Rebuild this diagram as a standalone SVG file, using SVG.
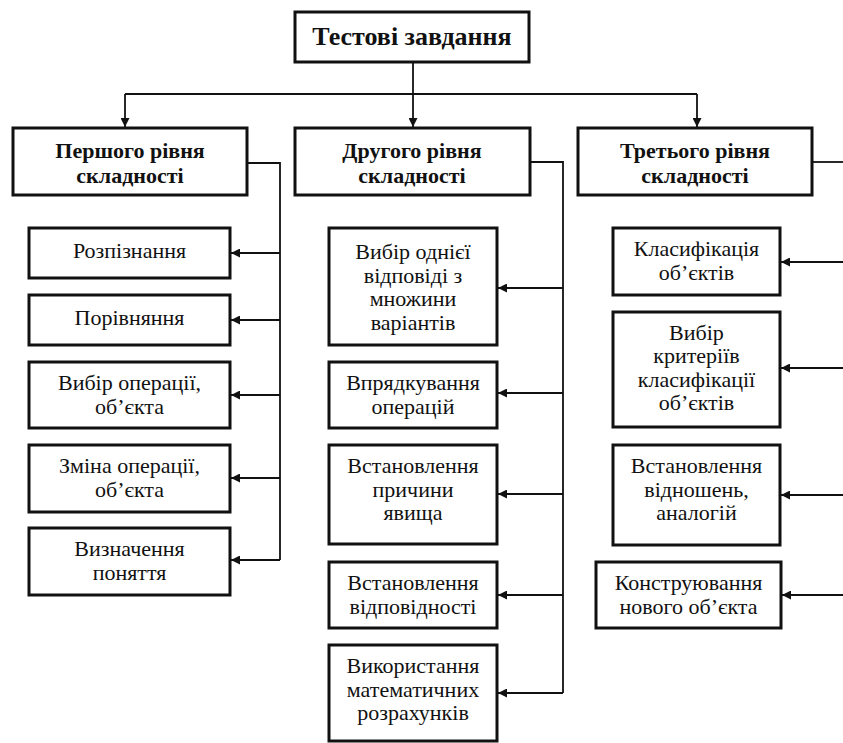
<svg xmlns="http://www.w3.org/2000/svg" width="843" height="743" viewBox="0 0 843 743">
  <style>
    .box { fill: #fff; stroke: #111; stroke-width: 3; }
    .ln { fill: none; stroke: #111; stroke-width: 1.8; }
    .t { font-size: 22px; fill: #111; text-anchor: middle; }
    .b { font-weight: bold; font-size: 22px; }
    .top { font-weight: bold; font-size: 26px; }
  </style>
  <defs>
    <marker id="arr" viewBox="0 0 10 10" refX="10" refY="5" markerWidth="10" markerHeight="9" markerUnits="userSpaceOnUse" orient="auto">
      <path d="M0,0 L10,5 L0,10 z" fill="#111"/>
    </marker>
  </defs>

  <g id="connectors">
    <!-- root to levels -->
    <line class="ln" x1="413" y1="62" x2="413" y2="94"/>
    <line class="ln" x1="125" y1="94" x2="697" y2="94"/>
    <line class="ln" x1="125" y1="94" x2="125" y2="127" marker-end="url(#arr)"/>
    <line class="ln" x1="413" y1="94" x2="413" y2="127" marker-end="url(#arr)"/>
    <line class="ln" x1="697" y1="94" x2="697" y2="127" marker-end="url(#arr)"/>
    <!-- level 1 branch -->
    <polyline class="ln" points="247,163 280,163 280,560"/>
    <line class="ln" x1="280" y1="253" x2="231" y2="253" marker-end="url(#arr)"/>
    <line class="ln" x1="280" y1="320" x2="231" y2="320" marker-end="url(#arr)"/>
    <line class="ln" x1="280" y1="395" x2="231" y2="395" marker-end="url(#arr)"/>
    <line class="ln" x1="280" y1="478" x2="231" y2="478" marker-end="url(#arr)"/>
    <line class="ln" x1="280" y1="560" x2="231" y2="560" marker-end="url(#arr)"/>
    <!-- level 2 branch -->
    <polyline class="ln" points="530,162 563,162 563,693"/>
    <line class="ln" x1="563" y1="288" x2="498" y2="288" marker-end="url(#arr)"/>
    <line class="ln" x1="563" y1="393" x2="498" y2="393" marker-end="url(#arr)"/>
    <line class="ln" x1="563" y1="494" x2="498" y2="494" marker-end="url(#arr)"/>
    <line class="ln" x1="563" y1="595" x2="498" y2="595" marker-end="url(#arr)"/>
    <line class="ln" x1="563" y1="693" x2="498" y2="693" marker-end="url(#arr)"/>
    <!-- level 3 branch -->
    <line class="ln" x1="812" y1="162" x2="843" y2="162"/>
    <line class="ln" x1="843" y1="262" x2="781" y2="262" marker-end="url(#arr)"/>
    <line class="ln" x1="843" y1="368" x2="781" y2="368" marker-end="url(#arr)"/>
    <line class="ln" x1="843" y1="495" x2="781" y2="495" marker-end="url(#arr)"/>
    <line class="ln" x1="843" y1="595" x2="782" y2="595" marker-end="url(#arr)"/>
  </g>

  <g font-family="Liberation Serif, Times New Roman, serif">
  <g id="root">
    <rect class="box" x="295" y="12" width="234" height="50"/>
    <text class="t top" x="412" y="45">Тестові завдання</text>
  </g>

  <g id="level1">
    <rect class="box" x="13" y="128" width="234" height="67"/>
    <text class="t b" x="130" y="158">Першого рівня</text>
    <text class="t b" x="130" y="183">складності</text>
  </g>
  <g id="level2">
    <rect class="box" x="295" y="128" width="235" height="67"/>
    <text class="t b" x="412" y="158">Другого рівня</text>
    <text class="t b" x="412" y="183">складності</text>
  </g>
  <g id="level3">
    <rect class="box" x="578" y="128" width="234" height="67"/>
    <text class="t b" x="695" y="158">Третього рівня</text>
    <text class="t b" x="695" y="183">складності</text>
  </g>

  <g id="l1-recognition">
    <rect class="box" x="29" y="228" width="201" height="50"/>
    <text class="t" x="129.5" y="258">Розпізнання</text>
  </g>
  <g id="l1-comparison">
    <rect class="box" x="29" y="295" width="201" height="50"/>
    <text class="t" x="129.5" y="325">Порівняння</text>
  </g>
  <g id="l1-choice">
    <rect class="box" x="29" y="362" width="201" height="66"/>
    <text class="t" x="129.5" y="390">Вибір операції,</text>
    <text class="t" x="129.5" y="414">об’єкта</text>
  </g>
  <g id="l1-change">
    <rect class="box" x="29" y="445" width="201" height="67"/>
    <text class="t" x="129.5" y="473">Зміна операції,</text>
    <text class="t" x="129.5" y="497">об’єкта</text>
  </g>
  <g id="l1-definition">
    <rect class="box" x="29" y="528" width="201" height="67"/>
    <text class="t" x="129.5" y="556">Визначення</text>
    <text class="t" x="129.5" y="580">поняття</text>
  </g>

  <g id="l2-single-answer">
    <rect class="box" x="329" y="228" width="168" height="117"/>
    <text class="t" x="413" y="259">Вибір однієї</text>
    <text class="t" x="413" y="283">відповіді з</text>
    <text class="t" x="413" y="306">множини</text>
    <text class="t" x="413" y="330">варіантів</text>
  </g>
  <g id="l2-ordering">
    <rect class="box" x="329" y="362" width="168" height="66"/>
    <text class="t" x="413" y="390">Впрядкування</text>
    <text class="t" x="413" y="414">операцій</text>
  </g>
  <g id="l2-cause">
    <rect class="box" x="329" y="445" width="168" height="99"/>
    <text class="t" x="413" y="473">Встановлення</text>
    <text class="t" x="413" y="497">причини</text>
    <text class="t" x="413" y="520">явища</text>
  </g>
  <g id="l2-correspondence">
    <rect class="box" x="329" y="562" width="168" height="66"/>
    <text class="t" x="413" y="590">Встановлення</text>
    <text class="t" x="413" y="614">відповідності</text>
  </g>
  <g id="l2-calculations">
    <rect class="box" x="329" y="645" width="168" height="96"/>
    <text class="t" x="413" y="673">Використання</text>
    <text class="t" x="413" y="697">математичних</text>
    <text class="t" x="413" y="720">розрахунків</text>
  </g>

  <g id="l3-classification">
    <rect class="box" x="613" y="228" width="167" height="67"/>
    <text class="t" x="696.5" y="256">Класифікація</text>
    <text class="t" x="696.5" y="280">об’єктів</text>
  </g>
  <g id="l3-criteria">
    <rect class="box" x="613" y="312" width="167" height="115"/>
    <text class="t" x="696.5" y="340">Вибір</text>
    <text class="t" x="696.5" y="363">критеріїв</text>
    <text class="t" x="696.5" y="387">класифікації</text>
    <text class="t" x="696.5" y="410">об’єктів</text>
  </g>
  <g id="l3-relations">
    <rect class="box" x="613" y="445" width="167" height="100"/>
    <text class="t" x="696.5" y="473">Встановлення</text>
    <text class="t" x="696.5" y="497">відношень,</text>
    <text class="t" x="696.5" y="520">аналогій</text>
  </g>
  <g id="l3-construction">
    <rect class="box" x="596" y="562" width="185" height="66"/>
    <text class="t" x="688.5" y="590">Конструювання</text>
    <text class="t" x="688.5" y="614">нового об’єкта</text>
  </g>
  </g>
</svg>
